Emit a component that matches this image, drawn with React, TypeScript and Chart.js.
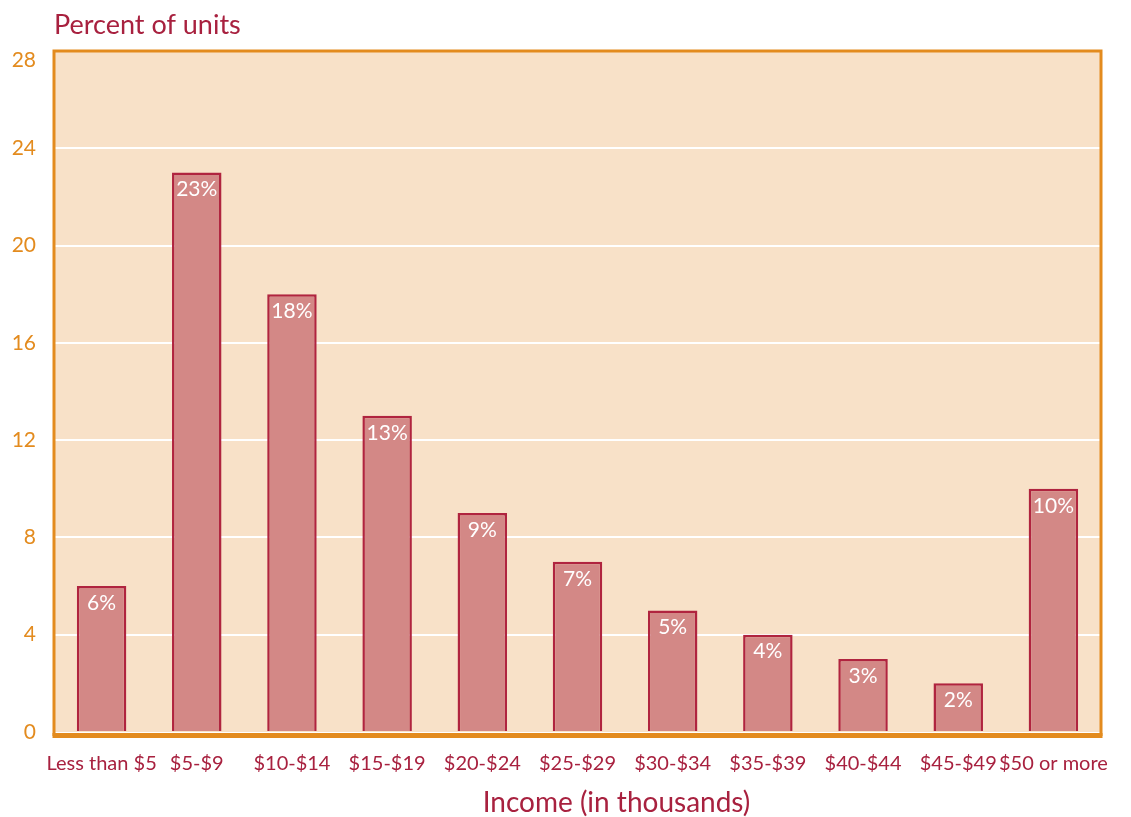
import React, { useEffect, useRef } from "react";
import { Chart, registerables } from "chart.js";

Chart.register(...registerables);

const categories = [
  "Less than $5", "$5-$9", "$10-$14", "$15-$19", "$20-$24", "$25-$29",
  "$30-$34", "$35-$39", "$40-$44", "$45-$49", "$50 or more",
];
const percentOfUnits = [6, 23, 18, 13, 9, 7, 5, 4, 3, 2, 10];
const yTicks = [0, 4, 8, 12, 16, 20, 24, 28];
const yTitle = "Percent of units";
const xTitle = "Income (in thousands)";

const FONT = "Lato, 'Open Sans', sans-serif";
const ORANGE = "#E38B1E";
const CRIMSON = "#A8213F";
const PLOT_BG = "#F8E1C8";
const BAR_FILL = "#D38886";
const BAR_EDGE = "#B0243F";

const framePlugin = {
  id: "frame",
  beforeDraw(chart: any) {
    const { ctx, chartArea: a } = chart;
    ctx.save();
    ctx.fillStyle = PLOT_BG;
    ctx.fillRect(a.left, a.top, a.right - a.left, a.bottom - a.top);
    ctx.restore();
  },
  afterDatasetsDraw(chart: any) {
    const { ctx, chartArea: a } = chart;
    ctx.save();
    ctx.strokeStyle = ORANGE;
    ctx.lineWidth = 3;
    ctx.beginPath();
    ctx.moveTo(a.left, a.bottom + 4);
    ctx.lineTo(a.left, a.top);
    ctx.lineTo(a.right, a.top);
    ctx.lineTo(a.right, a.bottom + 4);
    ctx.stroke();
    ctx.fillStyle = ORANGE;
    ctx.fillRect(a.left - 1.5, a.bottom + 1, a.right - a.left + 3, 5);
    // value labels
    const meta = chart.getDatasetMeta(0);
    ctx.fillStyle = "#FFFFFF";
    ctx.font = `21px ${FONT}`;
    ctx.textAlign = "center";
    ctx.textBaseline = "middle";
    meta.data.forEach((bar: any, i: number) => {
      ctx.fillText(`${percentOfUnits[i]}%`, bar.x, bar.y + 17);
    });
    // top tick label (sits just below the frame top)
    const topVal = yTicks[yTicks.length - 1];
    ctx.fillStyle = ORANGE;
    ctx.font = `21px ${FONT}`;
    ctx.textAlign = "right";
    ctx.fillText(String(topVal), a.left - 18, chart.scales.y.getPixelForValue(topVal) + 9);
    // y title
    ctx.fillStyle = CRIMSON;
    ctx.font = `27px ${FONT}`;
    ctx.textAlign = "left";
    ctx.textBaseline = "middle";
    ctx.fillText(yTitle, a.left, a.top - 26);
    // x title
    ctx.font = `28px ${FONT}`;
    ctx.textAlign = "center";
    ctx.fillText(xTitle, (a.left + a.right) / 2 + 39, a.bottom + 71);
    ctx.restore();
  },
};

export default function App() {
  const ref = useRef<HTMLCanvasElement>(null);
  useEffect(() => {
    if (!ref.current) return;
    const chart = new Chart(ref.current, {
      type: "bar",
      data: {
        labels: categories,
        datasets: [
          {
            data: percentOfUnits,
            backgroundColor: BAR_FILL,
            borderColor: BAR_EDGE,
            borderWidth: 2.5,
            categoryPercentage: 1,
            barPercentage: 0.52,
          },
        ],
      },
      options: {
        responsive: false,
        animation: false,
        layout: { padding: { top: 51, right: 30, left: 0, bottom: 0 } },
        plugins: {
          legend: { display: false },
          tooltip: { enabled: false },
          title: { display: false },
        },
        scales: {
          x: {
            grid: { display: false, drawTicks: false },
            border: { display: false },
            ticks: {
              color: CRIMSON,
              font: { family: FONT, size: 20 },
              padding: 20,
              maxRotation: 0,
              autoSkip: false,
            },
            afterFit(scale: any) {
              scale.height = 85;
            },
          },
          y: {
            min: 0,
            max: 28,
            afterBuildTicks(scale: any) {
              scale.ticks = yTicks.map((v) => ({ value: v }));
            },
            grid: {
              color: (c: any) =>
                c.tick && (c.tick.value === 0 || c.tick.value === 28)
                  ? "rgba(0,0,0,0)"
                  : "#FFFFFF",
              lineWidth: 2,
              drawTicks: false,
            },
            border: { display: false },
            ticks: {
              color: ORANGE,
              font: { family: FONT, size: 21 },
              padding: 18,
              callback: (v: any) => (v === yTicks[yTicks.length - 1] ? "" : String(v)),
            },
            afterFit(scale: any) {
              scale.width = 54;
            },
          },
        },
      },
      plugins: [framePlugin],
    });
    return () => chart.destroy();
  }, []);
  return (
    <div style={{ position: "fixed", left: 0, top: 0, width: 1131, height: 817, background: "#fff" }}>
      <canvas ref={ref} width={1131} height={817} />
    </div>
  );
}
